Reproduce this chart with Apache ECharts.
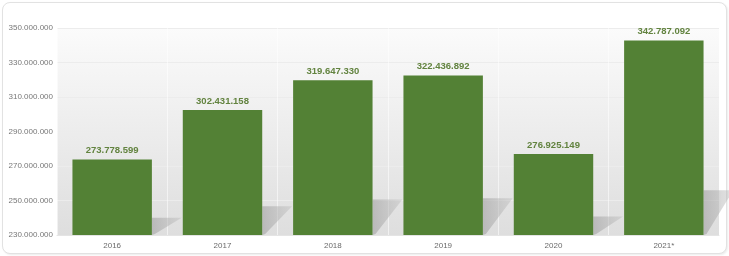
<!DOCTYPE html>
<html><head><meta charset="utf-8">
<script src="https://cdn.jsdelivr.net/npm/echarts@6/dist/echarts.min.js"></script>
<style>
html,body{margin:0;padding:0;background:#fff;}
#card{position:absolute;left:2px;top:2px;width:723px;height:250px;border:1px solid #e2e2e2;border-radius:8px;background:#fff;box-shadow:1px 1px 2px rgba(0,0,0,0.08);}
#c{position:absolute;left:0;top:0;width:729px;height:256px;}
</style></head>
<body>
<div id="card"></div>
<div id="c"></div>
<script>
const categories = ['2016','2017','2018','2019','2020','2021*'];
const values = [273778599, 302431158, 319647330, 322436892, 276925149, 342787092];
const yTicks = [230000000, 250000000, 270000000, 290000000, 310000000, 330000000, 350000000];

function fmt(v){ return String(Math.round(v)).replace(/\B(?=(\d{3})+(?!\d))/g,'.'); }

const chart = echarts.init(document.getElementById('c'), null, {renderer:'canvas'});
const yMin = yTicks[0], yMax = yTicks[yTicks.length-1];
chart.setOption({
  animation:false,
  grid:{left:57,right:10,top:28,bottom:21,show:true,borderWidth:0,
    backgroundColor:{type:'linear',x:0,y:0,x2:0,y2:1,colorStops:[{offset:0,color:'#fbfbfb'},{offset:1,color:'#dedede'}]}},
  xAxis:{type:'category',data:categories,
    axisLine:{show:true,lineStyle:{color:'#e4e4e4'}},axisTick:{show:false},
    axisLabel:{color:'#6a6a6a',fontSize:8,fontFamily:'Arial, Liberation Sans',margin:7},
    splitLine:{show:true,lineStyle:{color:'rgba(255,255,255,0.55)',width:1}}},
  yAxis:{type:'value',min:yMin,max:yMax,interval:20000000,
    axisLine:{show:false},axisTick:{show:false},
    axisLabel:{color:'#777',fontSize:8,fontFamily:'Arial, Liberation Sans',margin:4,formatter:fmt},
    splitLine:{lineStyle:{color:'#ececec'}}},
  series:[
    {type:'custom',z:1,silent:true,
     renderItem:function(params,api){
       const idx=api.value(0);
       const v=api.value(1);
       const base=api.coord([idx,yMin]);
       const top=api.coord([idx,v]);
       const bw=api.size([1,0])[0]*0.72;
       const xr=base[0]+bw/2;
       const h=(base[1]-top[1])*0.23;
       const w=api.size([1,0])[0]*0.27;
       return {type:'polygon',shape:{points:[[xr,base[1]],[xr,base[1]-h],[xr+w,base[1]-h],[xr+w*0.1,base[1]-1]]},
         style:{fill:{type:'linear',x:0,y:0,x2:1,y2:0,colorStops:[{offset:0,color:'rgba(160,160,160,0.6)'},{offset:1,color:'rgba(180,180,180,0.35)'}]}}};
     },
     data:values.map((v,i)=>[i,v])},
    {type:'bar',z:3,data:values,barWidth:'72%',
     itemStyle:{color:'#538135'},
     label:{show:true,position:'top',distance:4,color:'#62833f',fontSize:9.5,fontWeight:'bold',fontFamily:'Arial, Liberation Sans',formatter:p=>fmt(p.value)}}
  ]
});
</script>
</body></html>
